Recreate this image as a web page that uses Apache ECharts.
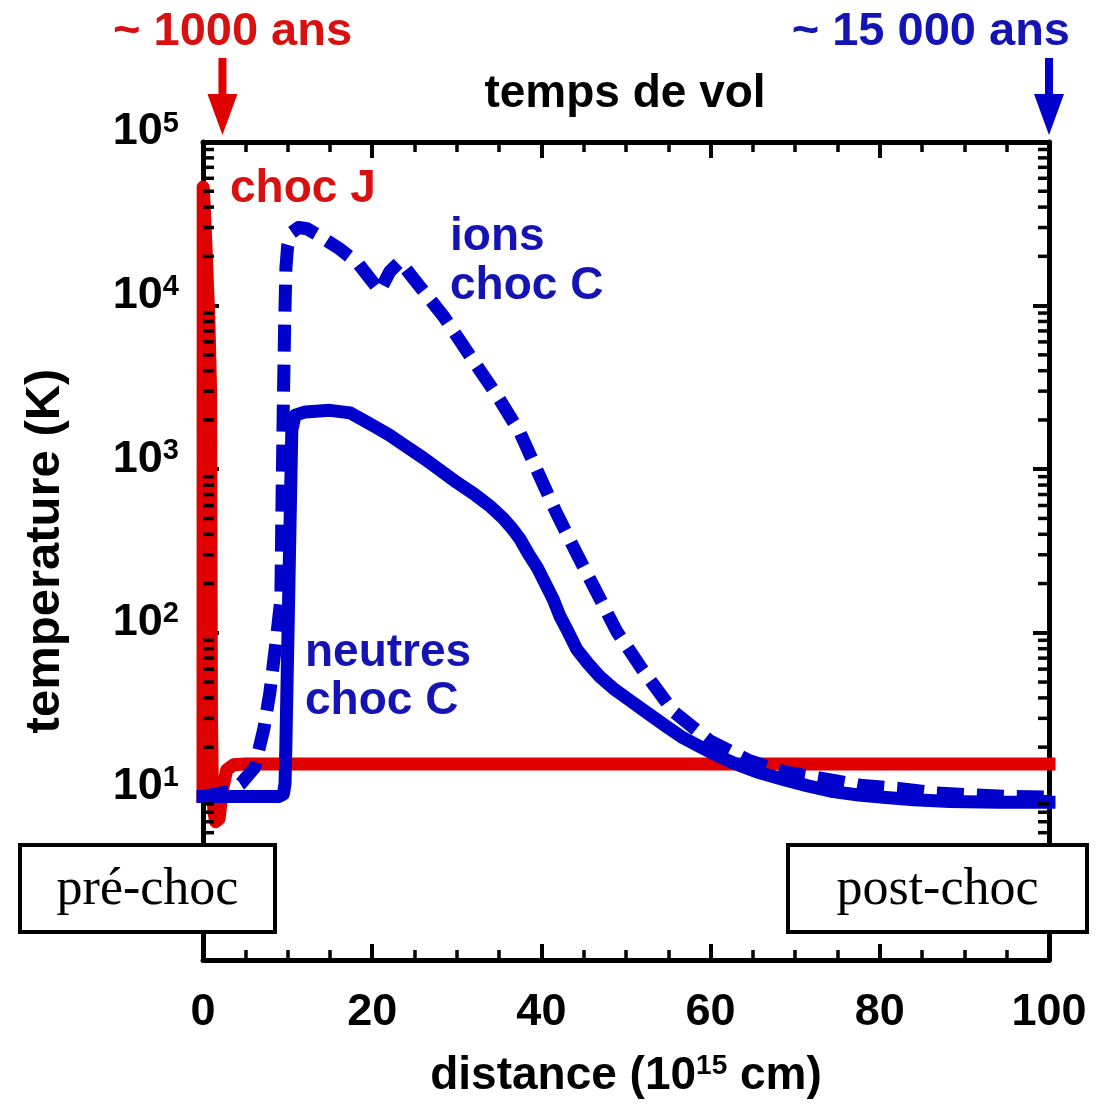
<!DOCTYPE html>
<html><head><meta charset="utf-8">
<script src="https://cdn.jsdelivr.net/npm/echarts@6/dist/echarts.min.js"></script>
<style>html,body{margin:0;padding:0;background:#fff}#c{width:1104px;height:1104px}</style>
</head><body><div id="c"></div>
<script>
// ---- data (distance in 1e15 cm, temperature in K) ----
const chocJ_x = [0, 0.02, 0.15, 0.4, 0.7, 0.9, 0.95, 1.0, 1.1, 1.3, 1.5, 1.9, 2.3, 2.8, 3.6, 5, 100];
const chocJ_T = [10, 53000, 40000, 20000, 8000, 3000, 300, 30, 12, 8, 7, 7.3, 11, 14.5, 15.6, 15.8, 15.8];

const neutres_x = [0, 5, 9.0, 9.5, 9.7, 9.8, 10.0, 10.2, 10.4, 10.5, 10.9, 12.1, 15, 17.4, 20, 22, 24, 26, 28, 30, 32, 34, 35.5, 36.5, 37.5, 38.5, 39.5, 41.4, 42.2, 43, 44.2, 45.5, 46.9, 48.5, 50.8, 52.8, 54.8, 56.7, 58.7, 60.6, 62.6, 65.5, 68.6, 71.5, 74.5, 77.5, 80.4, 84, 88.3, 94, 100];
const neutres_T = [10, 10, 10, 10.3, 12, 21, 74, 263, 933, 1740, 2140, 2240, 2290, 2210, 1860, 1620, 1380, 1175, 990, 830, 708, 590, 500, 436, 372, 302, 251, 160, 126, 105, 79, 65, 54, 45.7, 37.5, 31.6, 26.7, 22.9, 20.2, 18, 16.1, 14.1, 12.7, 11.6, 10.7, 10.2, 9.87, 9.55, 9.3, 9.2, 9.2];

const ions_x = [0, 3, 4.5, 6.1, 7.2, 7.9, 8.6, 9.2, 9.35, 9.5, 9.65, 9.8, 10.0, 10.5, 11.3, 12.3, 13.6, 16, 18.3, 19.8, 20.9, 22.1, 23.3, 24.8, 26.5, 28.5, 31.6, 34.8, 37.5, 39.6, 41.7, 44.1, 46.5, 48.9, 51.9, 55.6, 59.9, 64.5, 68.7, 73.2, 77.7, 82.2, 86.6, 91.3, 95.4, 100];
const ions_T = [10, 10.7, 12, 15, 26, 43, 85, 160, 700, 2600, 7500, 17000, 23000, 28000, 30000, 29500, 27000, 22500, 18200, 14500, 12300, 16200, 18600, 14800, 11500, 8500, 4900, 2800, 1660, 955, 550, 310, 178, 102, 60, 33, 21.9, 16.6, 14.1, 12.9, 11.7, 11.2, 10.5, 10.2, 10, 9.9];

// ---- axis ticks ----
const xTickInterval = 20;
const yMinorTicks = [2,3,4,5,6,7,8,9, 20,30,40,50,60,70,80,90, 200,300,400,500,600,700,800,900,
  2000,3000,4000,5000,6000,7000,8000,9000, 20000,30000,40000,50000,60000,70000,80000,90000];

const zip = (a, b) => a.map((v, i) => [v, b[i]]);
const SANS = '"Liberation Sans", Arial, Helvetica, sans-serif';
const SERIF = '"Liberation Serif", "DejaVu Serif", serif';
const RED = '#e00000', BLUE = '#0000cc', RED_T = '#d81010', BLUE_T = '#1414b4';

const chart = echarts.init(document.getElementById('c'), null, {renderer: 'canvas'});

const yBase = {type: 'log', logBase: 10, min: 1, max: 100000, splitNumber: 5, splitLine: {show: false}, minorSplitLine: {show: false},
  axisLine: {show: true, onZero: false, lineStyle: {color: '#000', width: 5}},
  axisTick: {show: true, inside: true, length: 16, lineStyle: {color: '#000', width: 4}}};
const yLabel = {
  show: true, margin: 24, padding: [0, 0, 20, 0],
  formatter: function (v) {
    const e = Math.round(Math.log10(v));
    if (e === 0) return '';
    return '{b|10}{s|' + e + '}';
  },
  rich: {
    b: {fontSize: 45, fontWeight: 'bold', fontFamily: SANS, color: '#000', lineHeight: 46},
    s: {fontSize: 29, fontWeight: 'bold', fontFamily: SANS, color: '#000', verticalAlign: 'top', lineHeight: 30}
  }
};
const xBase = {type: 'value', min: 0, max: 100, interval: xTickInterval, splitLine: {show: false}, minorSplitLine: {show: false},
  axisLine: {show: true, onZero: false, lineStyle: {color: '#000', width: 5}},
  axisTick: {show: true, inside: true, length: 16, lineStyle: {color: '#000', width: 4}},
  minorTick: {show: true, splitNumber: 4, length: 10, lineStyle: {color: '#000', width: 3.5}}};

const option = {
  animation: false,
  backgroundColor: '#fff',
  grid: {left: 203, right: 55, top: 142, bottom: 143, containLabel: false},
  xAxis: [
    Object.assign({}, xBase, {
      position: 'bottom',
      axisLabel: {show: true, fontSize: 45, fontWeight: 'bold', fontFamily: SANS, color: '#000', margin: 30},
      name: '{n|distance (10}{s|15}{n| cm)}', nameLocation: 'middle', nameGap: 92,
      nameTextStyle: {rich: {
        n: {fontSize: 46, fontWeight: 'bold', fontFamily: SANS, color: '#000', lineHeight: 48},
        s: {fontSize: 28, fontWeight: 'bold', fontFamily: SANS, color: '#000', verticalAlign: 'top', lineHeight: 30}
      }}
    }),
    Object.assign({}, xBase, {position: 'top', axisLabel: {show: false}})
  ],
  yAxis: [
    Object.assign({}, yBase, {
      position: 'left',
      axisLabel: yLabel,
      name: 'temperature (K)', nameLocation: 'middle', nameGap: 133,
      nameTextStyle: {fontSize: 49, fontWeight: 'bold', fontFamily: SANS, color: '#000'}
    }),
    Object.assign({}, yBase, {position: 'right', axisLabel: {show: false}})
  ],
  series: [
    {name: 'choc J', type: 'line', data: zip(chocJ_x, chocJ_T), symbol: 'none', clip: false, z: 2,
      lineStyle: {color: RED, width: 13, join: 'round', cap: 'square'}},
    {name: 'neutres choc C', type: 'line', data: zip(neutres_x, neutres_T), symbol: 'none', clip: false, z: 3,
      lineStyle: {color: BLUE, width: 13, join: 'round', cap: 'square'}},
    {name: 'ions choc C', type: 'line', data: zip(ions_x, ions_T), symbol: 'none', clip: false, z: 4,
      lineStyle: {color: BLUE, width: 13, type: [27, 13], join: 'round', cap: 'butt'}},
    {name: 'minor ticks', type: 'custom', coordinateSystem: 'cartesian2d', silent: true, clip: false, z: 10,
      data: yMinorTicks.map(v => [0, v]),
      renderItem: function (params, api) {
        const v = api.value(1);
        const pL = api.coord([0, v]);
        const pR = api.coord([100, v]);
        return {type: 'group', children: [
          {type: 'line', shape: {x1: pL[0], y1: pL[1], x2: pL[0] + 11, y2: pL[1]}, style: {stroke: '#000', lineWidth: 3.5}},
          {type: 'line', shape: {x1: pR[0] - 11, y1: pR[1], x2: pR[0], y2: pR[1]}, style: {stroke: '#000', lineWidth: 3.5}}
        ]};
      }}
  ]
};
chart.setOption(option);

function txt(text, x, y, color, size, align) {
  return {type: 'text', z: 100, style: {text: text, x: x, y: y, fill: color,
    font: 'bold ' + size + 'px ' + SANS, align: align || 'left', verticalAlign: 'middle'}};
}
function arrow(x, color) {
  return {type: 'polygon', z: 100, shape: {points: [[x - 4, 58], [x + 4, 58], [x + 4, 94], [x + 15, 94], [x, 135], [x - 15, 94], [x - 4, 94]]},
    style: {fill: color}};
}
function box(x, y, w, h, label) {
  return [
    {type: 'rect', z: 100, shape: {x: x, y: y, width: w, height: h}, style: {fill: '#fff', stroke: '#000', lineWidth: 4}},
    {type: 'text', z: 101, style: {text: label, x: x + w / 2, y: y + h / 2 + 2, fill: '#000', font: '52px ' + SERIF, align: 'center', verticalAlign: 'middle'}}
  ];
}
const redArrowX = chart.convertToPixel({xAxisIndex: 0}, 2.3);
const blueArrowX = chart.convertToPixel({xAxisIndex: 0}, 100);
chart.setOption({graphic: [
  txt('~ 1000 ans', 113, 32, RED_T, 47),
  txt('~ 15 000 ans', 1070, 32, BLUE_T, 47, 'right'),
  txt('temps de vol', 625, 94, '#000', 46, 'center'),
  arrow(redArrowX, RED),
  arrow(blueArrowX, BLUE),
  txt('choc J', 230, 189, RED_T, 46),
  txt('ions', 450, 237, BLUE_T, 46),
  txt('choc C', 450, 286, BLUE_T, 46),
  txt('neutres', 305, 653, BLUE_T, 46),
  txt('choc C', 305, 701, BLUE_T, 46)
].concat(box(20, 845, 255, 87, 'pré-choc'), box(788, 845, 299, 87, 'post-choc'))});
</script></body></html>
